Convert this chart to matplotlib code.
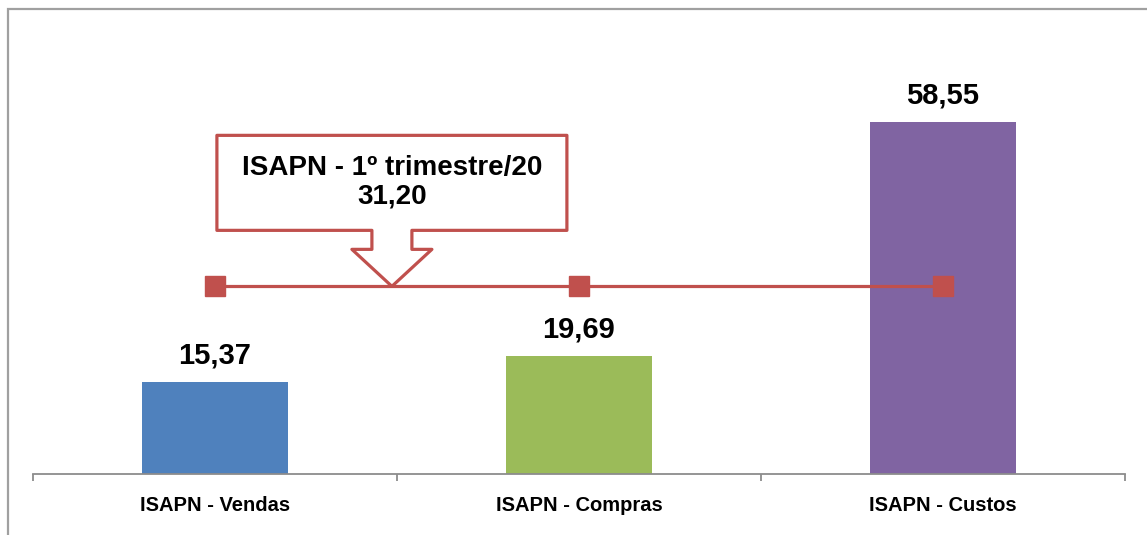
import numpy as np
import matplotlib
matplotlib.use("Agg")
import matplotlib.pyplot as plt
from matplotlib.patches import Rectangle, Polygon

plt.rcParams['font.family'] = ['Liberation Sans Narrow', 'Liberation Sans', 'DejaVu Sans']
plt.rcParams['font.weight'] = 'bold'

# Data
categories = ["ISAPN - Vendas", "ISAPN - Compras", "ISAPN - Custos"]
values = [15.37, 19.69, 58.55]
value_labels = ["15,37", "19,69", "58,55"]
bar_colors = ["#4F81BD", "#9BBB59", "#8064A2"]

line_values = [31.20, 31.20, 31.20]
callout_text = "ISAPN - 1º trimestre/20\n31,20"
red = "#C0504D"

fig = plt.figure(figsize=(11.47, 5.35), dpi=100)
ax = fig.add_axes([33 / 1147, 61 / 535, 1092 / 1147, 421 / 535])

x = np.arange(len(categories))
ax.bar(x, values, width=0.4, color=bar_colors, zorder=2)
ax.plot(x, line_values, color=red, lw=2.3, marker="s", markersize=14, zorder=3)

for xi, v, lab in zip(x, values, value_labels):
    ax.annotate(lab, (xi, v), xytext=(0, 9), textcoords="offset points",
                ha="center", va="bottom", fontsize=21, fontweight="bold")

ax.set_xlim(-0.5, 2.5)
ax.set_ylim(0, 70)
ax.set_yticks([])
for s in ["top", "right", "left"]:
    ax.spines[s].set_visible(False)
ax.spines["bottom"].set_color("#8C8C8C")
ax.spines["bottom"].set_linewidth(1.3)

ax.set_xticks(x)
ax.set_xticklabels(categories, fontsize=14.5, fontweight="bold")
ax.tick_params(axis="x", which="major", length=0, pad=16)
ax.set_xticks([-0.5, 0.5, 1.5, 2.5], minor=True)
ax.tick_params(axis="x", which="minor", length=5, width=1.3, color="#8C8C8C")

# callout pointing at the average line
tip = ax.transData.transform((0.486, line_values[0]))
offsets = np.array([
    (-175, 151), (175, 151), (175, 56), (20, 56), (20, 37), (40, 37),
    (0, 0), (-40, 37), (-20, 37), (-20, 56), (-175, 56),
])
verts = ax.transData.inverted().transform(tip + offsets)
ax.add_patch(Polygon(verts, closed=True, facecolor="white", edgecolor=red,
                     lw=2.3, joinstyle="round", zorder=4))
tc = ax.transData.inverted().transform(tip + np.array([0, 104]))
ax.text(tc[0], tc[1], callout_text, ha="center", va="center", fontsize=20,
        fontweight="bold", linespacing=1.15, zorder=5)

# outer chart border
fig.patches.append(Rectangle((8 / 1147, -0.1), 1.2, 1.1 - 9 / 535,
                             transform=fig.transFigure, fill=False,
                             edgecolor="#A0A0A0", lw=1.6))

fig.savefig("out.png", dpi=100)
